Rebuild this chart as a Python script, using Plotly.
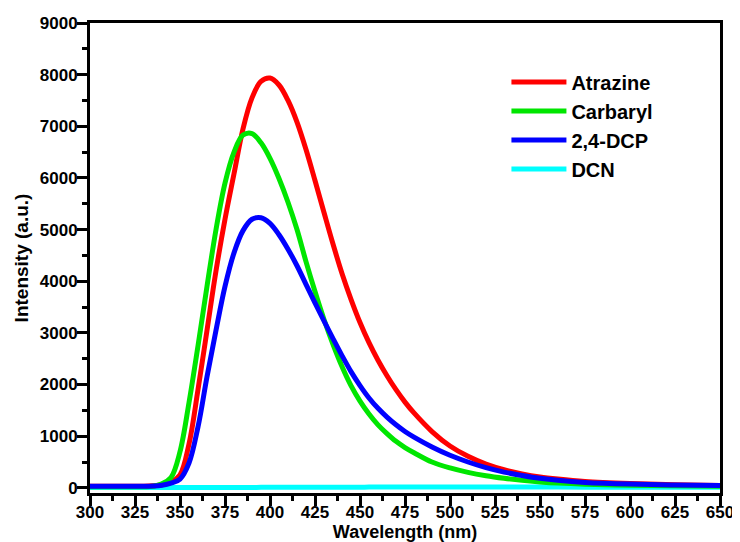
import plotly.graph_objects as go

# Wavelength grid (nm)
wavelength = [300, 310, 320, 330, 335, 340, 345, 350, 355, 360, 365, 370, 375, 380, 385,
              390, 395, 400, 405, 410, 415, 420, 425, 430, 435, 440, 445, 450, 455, 460,
              465, 470, 475, 480, 490, 500, 510, 520, 530, 540, 550, 560, 575, 600, 625, 650]

atrazine = [30, 30, 30, 30, 40, 60, 110, 250, 850, 1900, 3050, 4200, 5200, 6080, 6950,
            7550, 7870, 7935, 7800, 7500, 7080, 6550, 5950, 5330, 4720, 4150, 3650, 3200, 2810, 2470,
            2170, 1900, 1660, 1450, 1090, 810, 610, 460, 350, 270, 210, 170, 125, 85, 60, 45]

carbaryl = [20, 20, 20, 20, 30, 80, 200, 700, 1650, 2750, 3900, 5000, 5900, 6500, 6830,
            6860, 6680, 6380, 5990, 5530, 5000, 4380, 3800, 3260, 2780, 2350, 1980, 1680, 1430, 1220,
            1050, 900, 780, 680, 500, 385, 300, 235, 185, 145, 115, 92, 70, 50, 38, 30]

dcp = [30, 30, 30, 30, 35, 50, 90, 170, 480, 1180, 2150, 3050, 3900, 4550, 4980,
       5200, 5230, 5120, 4900, 4620, 4300, 3940, 3580, 3230, 2890, 2560, 2250, 1980, 1740, 1540,
       1370, 1220, 1090, 980, 790, 630, 500, 390, 305, 240, 185, 145, 105, 72, 55, 45]

dcn = [5, 5, 5, 5, 5, 5, 5, 5, 5, 6, 6, 7, 7, 8, 8,
       8, 9, 9, 10, 10, 10, 11, 11, 12, 12, 12, 13, 13, 14, 14,
       14, 15, 15, 15, 16, 16, 16, 15, 15, 15, 14, 14, 13, 12, 11, 10]

series_names = ["Atrazine", "Carbaryl", "2,4-DCP", "DCN"]
series_colors = ["#FF0000", "#00E600", "#0000FF", "#00FFFF"]
series_values = [atrazine, carbaryl, dcp, dcn]

x_ticks = list(range(300, 651, 25))
y_ticks = list(range(0, 9001, 1000))

fig = go.Figure()
# draw DCN first so it sits underneath
order = [3, 0, 1, 2]
for i in order:
    fig.add_trace(go.Scatter(
        x=wavelength, y=series_values[i], mode="lines", name=series_names[i],
        line=dict(color=series_colors[i], width=5, shape="spline", smoothing=1.0),
        legendrank=i + 1,
    ))

font_family = "Liberation Sans, Arial, sans-serif"

# page body adds an 8px offset, so the figure is sized to fit the window
fig.update_layout(
    width=732, height=534,
    margin=dict(l=82, r=20, t=15, b=49),
    paper_bgcolor="white", plot_bgcolor="white",
    font=dict(family=font_family, color="black"),
    showlegend=True,
    legend=dict(
        x=0.661, y=0.916, xanchor="left", yanchor="top",
        bgcolor="rgba(0,0,0,0)", borderwidth=0,
        font=dict(family=font_family, size=20, color="black", weight="bold"),
        itemwidth=55, tracegroupgap=0,
    ),
)

fig.update_xaxes(
    range=[300, 650], tickvals=x_ticks, ticktext=[str(v) for v in x_ticks],
    showgrid=False, zeroline=False, automargin=False,
    showline=True, linewidth=3, linecolor="black", mirror=True,
    ticks="outside", ticklen=10, tickwidth=2.5, tickcolor="black",
    ticklabelstandoff=-8,
    minor=dict(ticks="outside", ticklen=5, tickwidth=2.5, tickcolor="black", dtick=12.5, tick0=300),
    tickfont=dict(family=font_family, size=17, color="black", weight="bold"),
    title=dict(text="Wavelength (nm)", standoff=2,
               font=dict(family=font_family, size=18, color="black", weight="bold")),
)
fig.update_yaxes(
    range=[-100, 9000], tickvals=y_ticks, ticktext=[str(v) for v in y_ticks],
    showgrid=False, zeroline=False, automargin=False,
    showline=True, linewidth=3, linecolor="black", mirror=True,
    ticks="outside", ticklen=10, tickwidth=2.5, tickcolor="black",
    ticklabelstandoff=-4,
    minor=dict(ticks="outside", ticklen=5, tickwidth=2.5, tickcolor="black", dtick=500, tick0=0),
    tickfont=dict(family=font_family, size=17, color="black", weight="bold"),
    title=dict(text="Intensity (a.u.)", standoff=7,
               font=dict(family=font_family, size=19, color="black", weight="bold")),
)

fig.write_html("out.html")
